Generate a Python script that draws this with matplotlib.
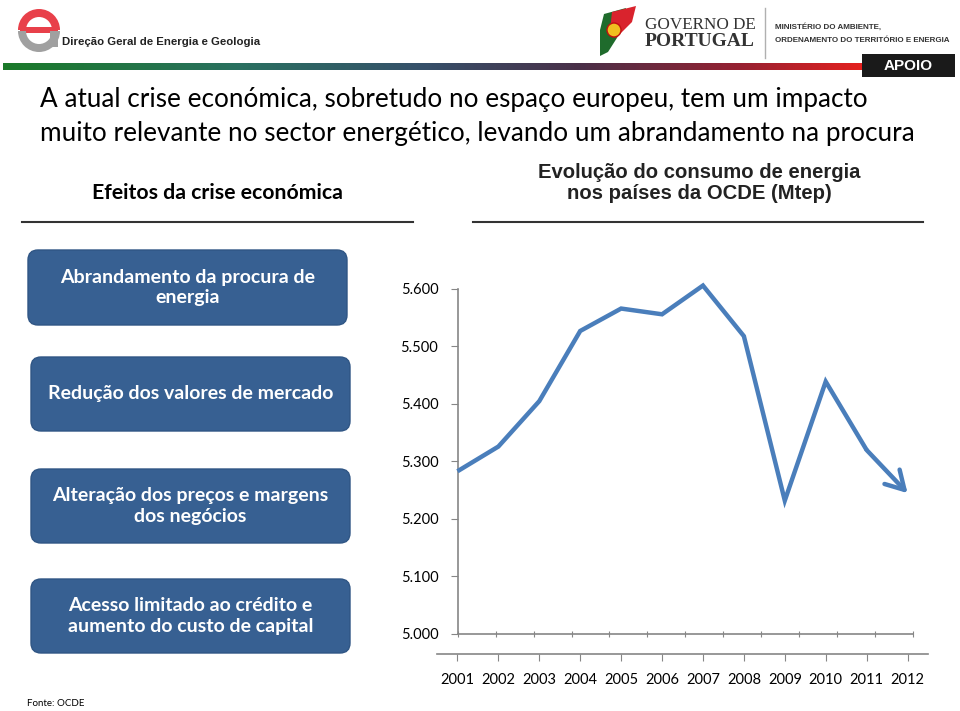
import matplotlib
matplotlib.use("Agg")
import matplotlib.pyplot as plt
import numpy as np
from matplotlib.patches import FancyBboxPatch, Wedge, Rectangle, Polygon
from matplotlib.ticker import FuncFormatter
from matplotlib.colors import LinearSegmentedColormap

# ---------------- data ----------------
years = ["2001", "2002", "2003", "2004", "2005", "2006",
         "2007", "2008", "2009", "2010", "2011", "2012"]
consumo = [5283, 5326, 5405, 5527, 5566, 5556, 5606, 5518, 5232, 5439, 5320, 5245]
y_ticks = [5000, 5100, 5200, 5300, 5400, 5500, 5600]

titulo = ["A atual crise económica, sobretudo no espaço europeu, tem um impacto",
          "muito relevante no sector energético, levando um abrandamento na procura"]
sub_esq = "Efeitos da crise económica"
sub_dir = "Evolução do consumo de energia\nnos países da OCDE (Mtep)"
caixas = ["Abrandamento da procura de\nenergia",
          "Redução dos valores de mercado",
          "Alteração dos preços e margens\ndos negócios",
          "Acesso limitado ao crédito e\naumento do custo de capital"]
fonte = "Fonte: OCDE"

W, H = 960, 711
fig = plt.figure(figsize=(W / 100, H / 100), dpi=100)
fig.patch.set_facecolor("white")

def fx(x):
    return x / W

def fy(y):
    return 1 - y / H

def rect(x0, y0, x1, y1):
    return [fx(x0), fy(y1), fx(x1) - fx(x0), fy(y0) - fy(y1)]

BODY = ["Lato", "DejaVu Sans"]
ARIAL = ["Liberation Sans", "DejaVu Sans"]
NARROW = ["Liberation Sans Narrow", "Liberation Sans", "DejaVu Sans"]

# gradient bar (drawn first, below everything)
grad_ax = fig.add_axes(rect(3, 63, 935, 70), zorder=0)
grad_ax.axis("off")
cmap = LinearSegmentedColormap.from_list("bar", [
    (0.0, "#1b7a2a"), (0.25, "#2a7060"), (0.45, "#36506a"),
    (0.62, "#4a3048"), (0.80, "#9a2030"), (0.93, "#e8201e"), (1.0, "#e82020")])
grad_ax.imshow(np.linspace(0, 1, 400)[None, :], aspect="auto", cmap=cmap)

# ---------------- header ----------------
bg = fig.add_axes([0, 0, 1, 1], zorder=1)
bg.set_xlim(0, W)
bg.set_ylim(H, 0)
bg.axis("off")

# DGEG logo (simplified)
bg.add_patch(Wedge((39, 30), 21, 180, 360, width=8, facecolor="#e8404a", edgecolor="none"))
bg.add_patch(Rectangle((20, 27), 38, 6, facecolor="#e8404a", edgecolor="none"))
bg.add_patch(Wedge((39, 31), 21, 0, 180, width=8, facecolor="#a0a0a0", edgecolor="none"))
bg.add_patch(Rectangle((50, 31), 8, 16, facecolor="#a0a0a0", edgecolor="none"))
bg.text(62, 42, "Direção Geral de Energia e Geologia", family=ARIAL, weight="bold",
        fontsize=8.2, color="#222222", va="center", ha="left")

# Governo de Portugal logo (simplified)
bg.add_patch(Polygon([(604, 14), (626, 8), (622, 30), (608, 52), (600, 56), (600, 30)],
                     closed=True, facecolor="#1f6b2c", edgecolor="none"))
bg.add_patch(Polygon([(612, 12), (636, 6), (632, 22), (616, 38), (610, 30)],
                     closed=True, facecolor="#d9232d", edgecolor="none"))
bg.add_patch(plt.Circle((614, 30), 7, facecolor="#f0c020", edgecolor="#c01010", lw=1))
bg.text(645, 25, "GOVERNO DE", family=["Liberation Serif", "DejaVu Serif"], fontsize=12.3,
        color="#333333", va="center", ha="left")
bg.text(645, 42, "PORTUGAL", family=["Liberation Serif", "DejaVu Serif"], weight="bold",
        fontsize=14, color="#333333", va="center", ha="left")
bg.plot([765, 765], [8, 58], color="#b0b0b0", lw=1)
bg.text(775, 27, "MINISTÉRIO DO AMBIENTE,", family=NARROW, weight="bold", fontsize=5.8,
        color="#333333", va="center", ha="left")
bg.text(775, 40, "ORDENAMENTO DO TERRITÓRIO E ENERGIA", family=NARROW, weight="bold", fontsize=5.8,
        color="#333333", va="center", ha="left")
bg.add_patch(Rectangle((862, 54), 93, 23, facecolor="#1a1a1a", edgecolor="none"))
bg.text(908, 66, "APOIO", family=ARIAL, weight="bold", fontsize=11, color="white",
        va="center", ha="center")

# ---------------- title ----------------
bg.text(40, 100, titulo[0], family=BODY, fontsize=18.8, color="black", va="center", ha="left")
bg.text(40, 133, titulo[1], family=BODY, fontsize=18.8, color="black", va="center", ha="left")

# sub headers
bg.text(217, 193, sub_esq, family=BODY, weight="bold", fontsize=15.3, color="black",
        va="center", ha="center")
bg.plot([22, 413], [222, 222], color="#333333", lw=1.5)
bg.text(699, 183, sub_dir, family=ARIAL, weight="bold", fontsize=14.6, color="#222222",
        va="center", ha="center", linespacing=1.12)
bg.plot([473, 923], [222, 222], color="#333333", lw=1.5)

# blue boxes
box_pos = [(28, 250, 347, 325), (31, 357, 350, 431), (31, 469, 350, 543), (31, 579, 350, 653)]
for (x0, y0, x1, y1), txt in zip(box_pos, caixas):
    bg.add_patch(FancyBboxPatch((x0 + 10, y0 + 10), (x1 - x0) - 20, (y1 - y0) - 20,
                                boxstyle="round,pad=10,rounding_size=10",
                                facecolor="#376092", edgecolor="#2f5584", lw=1))
    bg.text((x0 + x1) / 2, (y0 + y1) / 2, txt, family=BODY, weight="bold", fontsize=14,
            color="white", va="center", ha="center", linespacing=1.25)

bg.text(27, 704, fonte, family=BODY, fontsize=7, color="black", va="center", ha="left")

# ---------------- chart ----------------
line_color = "#4a7ebb"
axis_color = "#868686"
px_per_unit = (634 - 289) / (y_ticks[-1] - y_ticks[0])

# value axis frame (y axis + baseline)
ax_y = fig.add_axes(rect(457.7, 289, 913, 634), zorder=2)
ax_y.set_facecolor("none")
ax_y.set_ylim(y_ticks[0], y_ticks[-1])
ax_y.set_xlim(0, len(years))
ax_y.set_yticks(y_ticks)
ax_y.yaxis.set_major_formatter(FuncFormatter(lambda v, p: f"{v/1000:.3f}"))
ax_y.set_xticks(np.arange(len(years) + 1))
ax_y.set_xticklabels([])
for s in ["top", "right"]:
    ax_y.spines[s].set_visible(False)
for s in ["left", "bottom"]:
    ax_y.spines[s].set_color(axis_color)
    ax_y.spines[s].set_linewidth(1.2)
ax_y.tick_params(axis="y", direction="out", length=5, color=axis_color, pad=9,
                 labelsize=10.5, labelcolor="black")
ax_y.tick_params(axis="x", direction="inout", length=4, color=axis_color)
for lab in ax_y.get_yticklabels():
    lab.set_family(BODY)

# category axis + data line
top_px, bot_px = 270, 654
ax = fig.add_axes(rect(437, top_px, 928, bot_px), zorder=3)
ax.set_facecolor("none")
ax.set_xlim(-0.5, len(years) - 0.5)
ymin = y_ticks[0] - (bot_px - 634) / px_per_unit
ymax = y_ticks[-1] + (289 - top_px) / px_per_unit
ax.set_ylim(ymin, ymax)
ax.set_yticks([])
ax.set_xticks(np.arange(len(years)))
ax.set_xticklabels(years, family=BODY, fontsize=10.5)
for s in ["top", "right", "left"]:
    ax.spines[s].set_visible(False)
ax.spines["bottom"].set_color(axis_color)
ax.spines["bottom"].set_linewidth(1.2)
ax.tick_params(axis="x", direction="out", length=5, color=axis_color, pad=9)

xs = np.arange(len(years))
ax.plot(xs[:-1], consumo[:-1], color=line_color, lw=3.2, solid_joinstyle="miter",
        solid_capstyle="butt", clip_on=False)
ax.annotate("", xy=(xs[-1], consumo[-1]), xytext=(xs[-2], consumo[-2]),
            arrowprops=dict(arrowstyle="->,head_length=1.3,head_width=0.75", lw=3.2,
                            color=line_color, shrinkA=0, shrinkB=0))

fig.savefig("out.png", dpi=100, facecolor="white")
